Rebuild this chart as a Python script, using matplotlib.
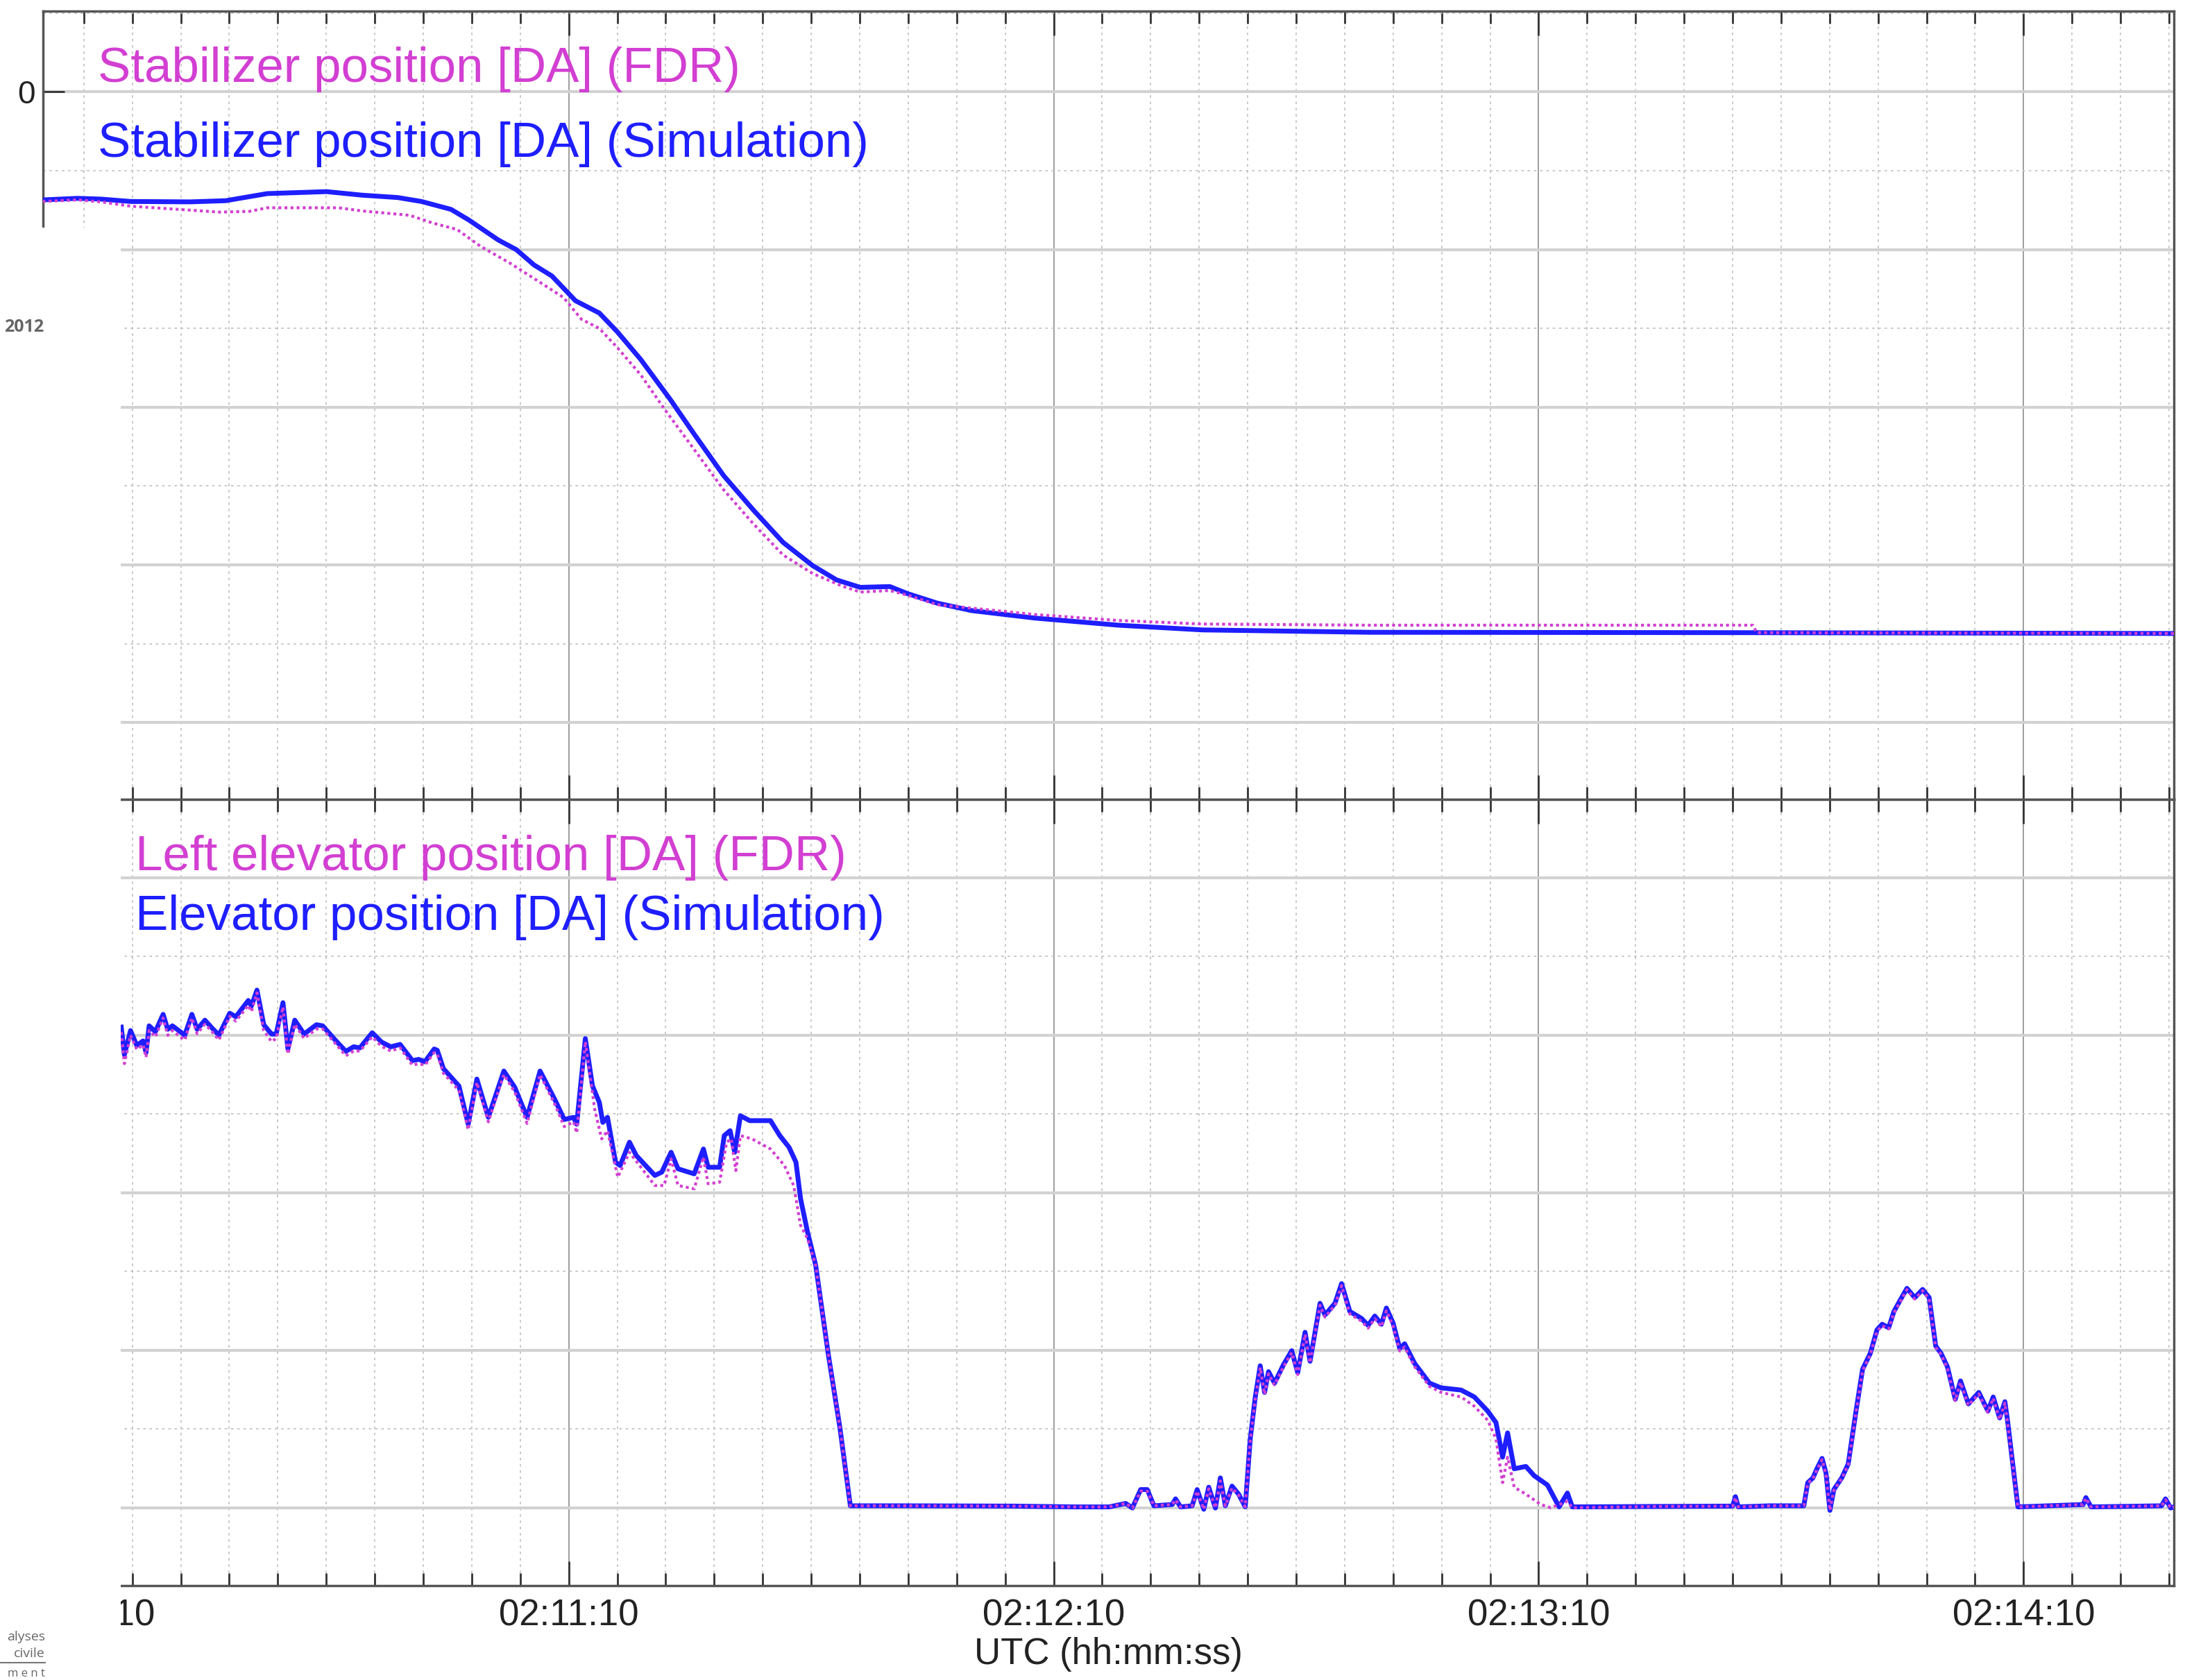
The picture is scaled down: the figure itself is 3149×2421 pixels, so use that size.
import numpy as np
import matplotlib.pyplot as plt
from matplotlib.ticker import FixedLocator, FuncFormatter
from matplotlib.patches import Rectangle
from matplotlib.lines import Line2D

W, H = 3149, 2421
DPI = 100

FDR_COL = '#d23fd2'
SIM_COL = '#1e1eff'

# time in seconds after 02:10:00 UTC, positions in degrees (DA)
stab_sim_t = [4.9, 9.21, 12.15, 15.81, 23.15, 27.56, 32.69, 40.03, 44.43, 48.83, 51.77,
              55.43, 57.64, 61.30, 63.50, 65.70, 67.91, 70.84, 73.78, 75.98, 78.91,
              82.58, 85.51, 89.18, 92.85, 96.52, 100.19, 103.12, 106.06, 109.73, 111.93,
              115.59, 119.85, 127.7, 138.0, 148.4, 169.0, 216.6, 268.6]
stab_sim = [-2.74, -2.70, -2.72, -2.78, -2.79, -2.76, -2.58, -2.53, -2.62, -2.68, -2.78,
            -2.98, -3.25, -3.76, -4.00, -4.39, -4.67, -5.30, -5.61, -6.08, -6.79,
            -7.81, -8.68, -9.74, -10.61, -11.43, -12.02, -12.38, -12.57, -12.55, -12.73,
            -12.97, -13.16, -13.35, -13.53, -13.65, -13.71, -13.72, -13.74]

stab_fdr_t = [4.9, 9.21, 12.15, 15.81, 21.68, 26.82, 30.49, 32.69, 41.50, 44.43, 50.30,
              53.23, 56.17, 59.10, 62.77, 66.44, 69.37, 71.57, 73.78, 75.98, 78.91,
              81.85, 85.51, 89.18, 92.85, 96.52, 100.19, 103.86, 106.06, 109.73, 111.93,
              115.59, 120.0, 127.7, 138.0, 148.4, 169.0, 216.5, 217.0, 268.6]
stab_fdr = [-2.78, -2.74, -2.79, -2.90, -2.98, -3.05, -3.03, -2.94, -2.94, -3.02, -3.13,
            -3.33, -3.49, -3.92, -4.35, -4.83, -5.22, -5.77, -6.00, -6.48, -7.18,
            -8.05, -9.07, -10.10, -10.96, -11.75, -12.22, -12.54, -12.69, -12.65, -12.77,
            -13.01, -13.10, -13.26, -13.41, -13.50, -13.53, -13.53, -13.72, -13.74]

elev_sim_t = [14.63, 15.02, 15.78, 16.55, 17.32, 17.70, 18.08, 18.85, 19.81, 20.38,
              20.96, 21.92, 22.49, 23.37, 24.02, 24.98, 25.75, 26.71, 28.05, 28.81,
              30.35, 30.73, 31.42, 32.26, 33.22, 33.80, 34.64, 35.25, 36.10, 37.25,
              38.78, 39.55, 41.08, 42.42, 43.38, 44.15, 45.68, 46.83, 47.98, 49.13,
              50.66, 51.43, 52.20, 53.35, 53.73, 54.49, 56.41, 57.56, 58.63, 60.05,
              61.97, 63.31, 64.84, 66.45, 68.29, 69.44, 70.59, 70.98, 72.05, 72.93,
              73.78, 74.21, 74.79, 75.79, 76.36, 77.51, 78.36, 80.65, 81.51, 82.66,
              83.52, 85.52, 86.66, 87.24, 88.67, 89.24, 89.96, 90.53, 91.24, 92.39,
              94.96, 96.11, 97.25, 98.11, 98.68, 99.54, 100.55, 102.12, 103.55, 104.84,
              111.28, 125.0, 132.75, 136.86, 138.91, 139.73, 140.76, 141.58, 142.40, 144.66,
              145.08, 145.69, 147.13, 147.75, 148.57, 149.18, 150.01, 150.62, 151.24, 152.06,
              152.88, 153.70, 154.32, 154.94, 155.55, 156.09, 156.58, 157.32, 158.43, 159.45,
              160.19, 161.10, 161.72, 162.95, 163.56, 164.80, 165.62, 166.64, 168.08, 168.90,
              169.73, 170.55, 171.16, 171.99, 172.81, 173.42, 174.66, 176.50, 177.94, 180.41,
              182.05, 183.69, 184.72, 185.54, 186.16, 186.98, 188.42, 189.45, 191.09, 192.53,
              193.56, 194.17, 205.0, 214.0, 214.35, 214.7, 218.61, 222.81, 223.30, 223.94,
              224.43, 225.07, 225.56, 226.04, 226.53, 227.50, 228.30, 229.27, 230.08, 231.05,
              231.86, 232.50, 233.31, 233.96, 234.76, 235.57, 236.54, 237.51, 238.32, 239.13,
              239.77, 240.58, 241.55, 242.20, 243.17, 244.46, 245.59, 246.24, 247.04, 247.69,
              248.01, 249.30, 257.38, 257.71, 258.35, 267.07, 267.56, 268.21, 268.6]
elev_sim = [0.52, -1.24, 0.30, -0.65, -0.36, -1.09, 0.60, 0.23, 1.33, 0.38,
            0.60, 0.23, 0.01, 1.33, 0.38, 0.96, 0.52, 0.01, 1.40, 1.18,
            2.21, 1.85, 2.87, 0.67, 0.08, 0.08, 2.07, -0.87, 0.96, 0.08,
            0.67, 0.60, -0.29, -1.02, -0.73, -0.80, 0.16, -0.43, -0.73, -0.58,
            -1.61, -1.53, -1.68, -0.87, -0.95, -2.12, -3.22, -5.65, -2.78, -5.21,
            -2.27, -3.30, -5.21, -2.27, -4.10, -5.35, -5.21, -5.65, -0.21, -3.21,
            -4.26, -5.53, -5.21, -8.06, -8.27, -6.79, -7.64, -8.90, -8.69, -7.43,
            -8.48, -8.80, -7.22, -8.38, -8.38, -6.37, -6.06, -7.43, -5.11, -5.42,
            -5.42, -6.37, -7.11, -8.06, -10.38, -12.49, -14.60, -20.29, -24.93, -29.88,
            -29.88, -29.90, -29.95, -29.95, -29.73, -30.02, -28.85, -28.85, -29.88, -29.80,
            -29.44, -29.95, -29.88, -28.85, -30.10, -28.70, -30.02, -28.11, -29.88, -28.63,
            -29.14, -29.95, -25.62, -22.97, -20.99, -22.68, -21.36, -22.09, -20.92, -20.03,
            -21.43, -18.86, -20.70, -17.02, -17.76, -17.02, -15.77, -17.54, -17.98, -18.42,
            -17.83, -18.35, -17.32, -18.27, -19.89, -19.59, -20.84, -22.09, -22.39, -22.53,
            -22.97, -23.86, -24.59, -26.79, -25.25, -27.53, -27.38, -27.97, -28.56, -29.95,
            -29.07, -29.95, -29.92, -29.90, -29.30, -29.95, -29.88, -29.88, -28.41, -28.11,
            -27.53, -26.87, -27.82, -30.17, -28.85, -28.11, -27.23, -23.86, -21.21, -20.18,
            -18.71, -18.35, -18.57, -17.54, -16.80, -16.07, -16.66, -16.14, -16.66, -19.74,
            -20.18, -21.06, -23.12, -21.95, -23.41, -22.68, -23.86, -22.97, -24.30, -23.27,
            -24.44, -29.95, -29.80, -29.36, -29.95, -29.88, -29.44, -30.02, -29.95]

elev_fdr_t = [14.63, 15.02, 15.78, 16.55, 17.32, 17.70, 18.08, 18.85, 19.81, 20.38,
              20.96, 21.92, 22.49, 23.37, 24.02, 24.98, 25.75, 26.71, 28.05, 28.81,
              30.35, 30.73, 31.42, 32.26, 33.22, 33.80, 34.64, 35.25, 36.10, 37.25,
              38.78, 39.55, 41.08, 42.42, 43.38, 44.15, 45.68, 46.83, 47.98, 49.13,
              50.66, 51.43, 52.20, 53.35, 53.73, 54.49, 56.41, 57.56, 58.63, 60.05,
              61.97, 63.31, 64.84, 66.45, 68.29, 69.44, 70.59, 70.98, 72.05, 73.21,
              74.07, 74.79, 76.07, 77.51, 80.65, 81.80, 82.66, 83.52, 85.52, 86.66,
              87.24, 88.67, 89.53, 90.10, 90.67, 91.24, 92.67, 94.96, 96.68, 97.83,
              98.68, 99.54, 100.55, 102.12, 103.55, 104.84,
              111.28, 125.0, 132.75, 136.86, 138.91, 139.73, 140.76, 141.58, 142.40, 144.66,
              145.08, 145.69, 147.13, 147.75, 148.57, 149.18, 150.01, 150.62, 151.24, 152.06,
              152.88, 153.70, 154.32, 154.94, 155.55, 156.09, 156.58, 157.32, 158.43, 159.45,
              160.19, 161.10, 161.72, 162.95, 163.56, 164.80, 165.62, 166.64, 168.08, 168.90,
              169.73, 170.55, 171.16, 171.99, 172.81, 173.42, 174.66, 176.50, 177.94, 180.41,
              182.05, 183.69, 184.72, 185.54, 186.16, 186.98, 188.42, 190.27, 191.50, 193.56,
              194.17, 205.0, 214.0, 214.35, 214.7, 218.61, 222.81, 223.30, 223.94,
              224.43, 225.07, 225.56, 226.04, 226.53, 227.50, 228.30, 229.27, 230.08, 231.05,
              231.86, 232.50, 233.31, 233.96, 234.76, 235.57, 236.54, 237.51, 238.32, 239.13,
              239.77, 240.58, 241.55, 242.20, 243.17, 244.46, 245.59, 246.24, 247.04, 247.69,
              248.01, 249.30, 257.38, 257.71, 258.35, 267.07, 267.56, 268.21, 268.6]
elev_fdr = [0.20, -1.80, 0.00, -0.90, -0.60, -1.40, 0.30, -0.10, 1.10, 0.00,
            0.30, -0.10, -0.30, 1.10, 0.10, 0.70, 0.30, -0.30, 1.20, 0.90,
            1.90, 1.50, 2.70, 0.30, -0.40, -0.20, 1.80, -1.20, 0.70, -0.20,
            0.40, 0.40, -0.50, -1.30, -1.00, -1.00, -0.10, -0.70, -1.00, -0.80,
            -1.90, -1.80, -1.90, -1.10, -1.20, -2.40, -3.50, -6.00, -3.00, -5.50,
            -2.50, -3.60, -5.60, -2.50, -4.40, -5.80, -5.50, -6.20, -0.40, -4.69,
            -6.58, -6.06, -9.01, -7.43, -9.54, -9.54, -7.85, -9.54, -9.75, -7.74,
            -9.43, -9.33, -6.79, -6.58, -8.59, -6.37, -6.58, -7.22, -8.27, -9.54,
            -12.07, -12.91, -14.60, -20.29, -24.93, -29.88,
            -29.88, -29.90, -29.95, -29.95, -29.73, -30.02, -28.95, -28.95, -29.88, -29.80,
            -29.50, -29.95, -29.88, -28.95, -30.10, -28.80, -30.02, -28.30, -29.88, -28.75,
            -29.20, -29.95, -25.70, -23.10, -21.10, -22.80, -21.50, -22.20, -21.05, -20.15,
            -21.55, -19.00, -20.80, -17.15, -17.90, -17.15, -15.90, -17.70, -18.15, -18.60,
            -18.00, -18.50, -17.50, -18.45, -20.05, -19.80, -21.05, -22.30, -22.68, -22.97,
            -23.56, -24.44, -25.62, -28.41, -26.79, -28.70, -29.14, -29.80, -30.00, -29.60,
            -30.00, -29.92, -29.90, -29.35, -29.95, -29.88, -29.88, -28.45, -28.15,
            -27.60, -26.95, -27.90, -30.17, -28.90, -28.15, -27.30, -23.95, -21.30, -20.25,
            -18.80, -18.45, -18.65, -17.62, -16.90, -16.15, -16.75, -16.22, -16.75, -19.82,
            -20.25, -21.15, -23.20, -22.05, -23.50, -22.78, -23.95, -23.05, -24.40, -23.35,
            -24.55, -29.95, -29.80, -29.40, -29.95, -29.88, -29.50, -30.02, -29.95]

stab_ticks = [0, -4, -8, -12, -16]
stab_labels = ['0', '', '', '', '']
elev_ticks = [10, 0, -10, -20, -30]
minute_ticks = [10, 70, 130, 190, 250]

plt.rcParams['font.family'] = ['Liberation Sans', 'DejaVu Sans']

fig = plt.figure(figsize=(W / DPI, H / DPI), dpi=DPI)
left, right = 62 / W, 3133 / W
ax1 = fig.add_axes([left, 1 - 1152 / H, right - left, (1152 - 16) / H])
ax2 = fig.add_axes([left, 1 - 2285 / H, right - left, (2285 - 1152) / H])


def hms(s, pos=None):
    s = int(round(s))
    return f"02:{10 + s // 60:02d}:{s % 60:02d}"


def style(ax, majors, yt, ymin):
    ax.set_xlim(4.95, 268.6)
    ax.xaxis.set_major_locator(FixedLocator(majors))
    ax.xaxis.set_minor_locator(FixedLocator(np.arange(10, 269, 6)))
    ax.xaxis.set_major_formatter(FuncFormatter(hms))
    ax.yaxis.set_major_locator(FixedLocator(yt))
    ax.yaxis.set_minor_locator(FixedLocator(ymin))
    ax.tick_params(axis='x', which='both', direction='in', top=True, bottom=True,
                   color='#333333', width=2)
    ax.tick_params(axis='x', which='major', length=25, labelsize=38, pad=13,
                   labelcolor='#222222')
    ax.tick_params(axis='x', which='minor', length=13)
    ax.tick_params(axis='y', which='major', direction='in', length=22, width=2,
                   color='#333333', labelsize=33, pad=8, labelcolor='#222222')
    ax.tick_params(axis='y', which='minor', length=0)
    ax.grid(axis='x', which='major', color='#8c8c8c', lw=1.2, ls='-')
    ax.grid(axis='x', which='minor', color='#c4c4c4', lw=1.3, ls=(0, (2, 3)))
    ax.grid(axis='y', which='major', color='#d2d2d2', lw=3)
    ax.grid(axis='y', which='minor', color='#c4c4c4', lw=1.3, ls=(0, (2, 3)))
    ax.set_axisbelow(True)
    for s in ax.spines.values():
        s.set_color('#555555')
        s.set_linewidth(2.5)


style(ax1, minute_ticks[1:], stab_ticks, [2, -2, -6, -10, -14])
ax1.set_ylim(-17.95, 2.05)
ax1.set_yticklabels(stab_labels)
ax1.tick_params(axis='x', labelbottom=False)

style(ax2, minute_ticks, elev_ticks, [5, -5, -15, -25])
ax2.set_ylim(-34.95, 14.98)
ax2.set_yticklabels([''] * len(elev_ticks))
ax2.set_xlabel('UTC (hh:mm:ss)', fontsize=38, color='#222222', labelpad=4)

ax1.plot(stab_sim_t, stab_sim, color=SIM_COL, lw=5, zorder=3)
ax1.plot(stab_fdr_t, stab_fdr, color=FDR_COL, lw=3, ls=(0, (1, 1.1)), zorder=4)
ax2.plot(elev_sim_t, elev_sim, color=SIM_COL, lw=5, zorder=3)
ax2.plot(elev_fdr_t, elev_fdr, color=FDR_COL, lw=3, ls=(0, (1, 1.1)), zorder=4)

# curve names
fig.text(141 / W, 1 - 118 / H, 'Stabilizer position [DA] (FDR)', color=FDR_COL,
         fontsize=51, va='baseline')
fig.text(141 / W, 1 - 226 / H, 'Stabilizer position [DA] (Simulation)', color=SIM_COL,
         fontsize=51, va='baseline')
fig.text(195 / W, 1 - 1254 / H, 'Left elevator position [DA] (FDR)', color=FDR_COL,
         fontsize=51, va='baseline')
fig.text(195 / W, 1 - 1340 / H, 'Elevator position [DA] (Simulation)', color=SIM_COL,
         fontsize=51, va='baseline')

# page background cut over the left part of the plot
fig.add_artist(Rectangle((0, 0), 174 / W, 1 - 328 / H, transform=fig.transFigure,
                         facecolor='white', edgecolor='none', zorder=5))
frag = dict(ha='right', va='center', color='#666666',
            family=['Open Sans', 'DejaVu Sans'], zorder=6)
fig.text(63 / W, 1 - 472 / H, '2012', fontsize=18, fontweight='bold', **frag)
fig.text(65 / W, 1 - 2359 / H, 'alyses', fontsize=14, **frag)
fig.text(65 / W, 1 - 2383 / H, 'civile', fontsize=14, **frag)
fig.text(65 / W, 1 - 2412 / H, 'm e n t', fontsize=12, **frag)
fig.add_artist(Line2D([0, 65 / W], [1 - 2396 / H, 1 - 2396 / H], transform=fig.transFigure,
                      color='#777777', lw=1.5, zorder=6))

fig.savefig('out.png', dpi=DPI)
